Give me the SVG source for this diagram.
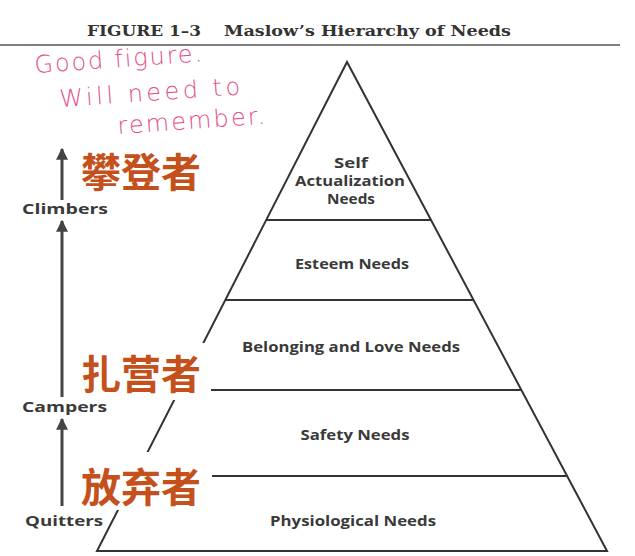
<svg xmlns="http://www.w3.org/2000/svg" width="635" height="556" viewBox="0 0 635 556">
<style>
.lbl{font-family:"Open Sans","DejaVu Sans",sans-serif;font-weight:bold;font-size:14.5px;fill:#3a3a3a;text-anchor:middle}
.side{font-family:"Open Sans","DejaVu Sans",sans-serif;font-weight:bold;font-size:14px;fill:#3a3a3a}
.cjk{font-family:"Noto Sans CJK SC","Noto Sans CJK JP",sans-serif;font-weight:bold;font-size:40px;fill:#c4501c}
.hand{font-family:"DejaVu Sans","Noto Sans",sans-serif;font-weight:200;font-size:24px;fill:#e4508a;letter-spacing:2px}
.edge{stroke:#333;stroke-width:2;fill:none}
.arr{stroke:#444;stroke-width:3;fill:none}
</style>
<defs>
<marker id="ah" viewBox="0 0 10 10" refX="9" refY="5" markerWidth="4" markerHeight="4.5" orient="auto" markerUnits="strokeWidth">
<path d="M0,0 L10,5 L0,10 z" fill="#444"/>
</marker>
</defs>
<rect width="635" height="556" fill="#fff"/>
<g id="title">
<text x="87" y="36" font-family="DejaVu Serif,Liberation Serif,serif" font-weight="bold" font-size="15" fill="#333" textLength="114" lengthAdjust="spacingAndGlyphs">FIGURE 1–3</text>
<text x="224" y="36" font-family="DejaVu Serif,Liberation Serif,serif" font-weight="bold" font-size="15" fill="#333" textLength="287" lengthAdjust="spacingAndGlyphs">Maslow’s Hierarchy of Needs</text>
<line x1="0" y1="45" x2="620" y2="45" stroke="#555" stroke-width="1.5"/>
</g>
<g id="note">
<text class="hand" x="35" y="73" transform="rotate(-4 35 73)" textLength="170">Good figure.</text>
<text class="hand" x="60" y="107" transform="rotate(-4 60 107)" textLength="183">Will need to</text>
<text class="hand" x="118" y="134" transform="rotate(-4 118 134)" textLength="150">remember.</text>
</g>
<g id="pyramid">
<path class="edge" d="M97,551 L347,62 L607,551 Z"/>
<line class="edge" x1="266" y1="220" x2="431" y2="220"/>
<line class="edge" x1="225" y1="300" x2="473" y2="300"/>
<line class="edge" x1="179" y1="390" x2="521" y2="390"/>
<line class="edge" x1="135" y1="476" x2="567" y2="476"/>
</g>
<g id="tier-self"><text class="lbl" x="351" y="168" textLength="34" lengthAdjust="spacingAndGlyphs">Self</text><text class="lbl" x="350" y="186" textLength="110" lengthAdjust="spacingAndGlyphs">Actualization</text><text class="lbl" x="351" y="204" textLength="48" lengthAdjust="spacingAndGlyphs">Needs</text></g>
<g id="tier-esteem"><text class="lbl" x="352" y="269" textLength="114" lengthAdjust="spacingAndGlyphs">Esteem Needs</text></g>
<g id="tier-belonging"><text class="lbl" x="351" y="352" textLength="218" lengthAdjust="spacingAndGlyphs">Belonging and Love Needs</text></g>
<g id="tier-safety"><text class="lbl" x="355" y="440" textLength="109" lengthAdjust="spacingAndGlyphs">Safety Needs</text></g>
<g id="tier-physio"><text class="lbl" x="353" y="526" textLength="166" lengthAdjust="spacingAndGlyphs">Physiological Needs</text></g>
<g id="connectors">
<line class="arr" x1="62" y1="200" x2="62" y2="149" marker-end="url(#ah)"/>
<line class="arr" x1="62" y1="397" x2="62" y2="221" marker-end="url(#ah)"/>
<line class="arr" x1="62" y1="506" x2="62" y2="419" marker-end="url(#ah)"/>
</g>
<g id="climbers"><text class="side" x="22" y="214" textLength="86" lengthAdjust="spacingAndGlyphs">Climbers</text><text class="cjk" x="81" y="187">攀登者</text></g>
<g id="campers"><rect x="74" y="343" width="137" height="57" fill="#fff"/><text class="side" x="22" y="412" textLength="85" lengthAdjust="spacingAndGlyphs">Campers</text><text class="cjk" x="81" y="389">扎营者</text></g>
<g id="quitters"><rect x="74" y="452" width="138" height="58" fill="#fff"/><text class="side" x="25" y="526" textLength="78" lengthAdjust="spacingAndGlyphs">Quitters</text><text class="cjk" x="81" y="502">放弃者</text></g>
</svg>
